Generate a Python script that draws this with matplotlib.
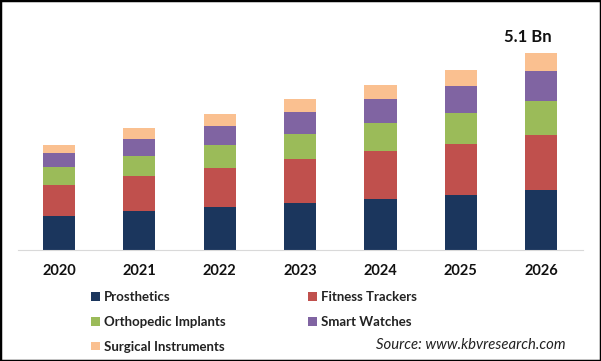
import matplotlib.pyplot as plt
from matplotlib.patches import Rectangle

years = ['2020', '2021', '2022', '2023', '2024', '2025', '2026']
prosthetics = [0.88, 1.02, 1.11, 1.22, 1.32, 1.43, 1.55]
fitness = [0.80, 0.90, 1.02, 1.13, 1.24, 1.32, 1.43]
orthopedic = [0.47, 0.52, 0.59, 0.65, 0.72, 0.80, 0.87]
smart = [0.35, 0.44, 0.49, 0.57, 0.62, 0.69, 0.78]
surgical = [0.23, 0.28, 0.31, 0.34, 0.36, 0.41, 0.46]
series_names = ['Prosthetics', 'Fitness Trackers', 'Orthopedic Implants',
                'Smart Watches', 'Surgical Instruments']
colors = ['#1b365d', '#c0504d', '#9bbb59', '#8064a2', '#fac090']

plt.rcParams['font.family'] = ['Lato', 'DejaVu Sans']

fig = plt.figure(figsize=(6.01, 3.61), dpi=100)
ax = fig.add_axes([18/601, 111/361, 565/601, 230/361])

x = list(range(len(years)))
bottom = [0] * len(years)
handles = []
for name, vals, c in zip(series_names,
                         [prosthetics, fitness, orthopedic, smart, surgical],
                         colors):
    b = ax.bar(x, vals, 0.4, bottom=bottom, color=c, label=name)
    handles.append(b)
    bottom = [p + v for p, v in zip(bottom, vals)]

ax.text(x[-1] - 0.17, bottom[-1] + 0.42, '5.1 Bn', ha='center', va='center',
        fontsize=12, fontweight='bold', color='#111111')

ax.set_xlim(-0.51, 6.52)
ax.set_ylim(0, 230 * 5.1 / 197)
for s in ['top', 'right', 'left']:
    ax.spines[s].set_visible(False)
ax.spines['bottom'].set_color('#d9d9d9')
ax.set_yticks([])
ax.set_xticks(x)
ax.set_xticklabels(years, fontsize=10.5, fontweight='bold', color='#111111')
ax.tick_params(axis='x', length=0, pad=10)

# legend in two separate columns so the column positions can be set exactly
leg_kw = dict(loc='upper left', frameon=False, handlelength=0.65,
              handleheight=0.65, handletextpad=0.3, labelspacing=0.97,
              borderpad=0, borderaxespad=0,
              prop={'size': 9.5, 'weight': 'bold'})
col1 = [0, 2, 4]
col2 = [1, 3]
leg1 = fig.legend([handles[i] for i in col1], [series_names[i] for i in col1],
                  bbox_to_anchor=(91/601, 1 - 291/361), **leg_kw)
leg2 = fig.legend([handles[i] for i in col2], [series_names[i] for i in col2],
                  bbox_to_anchor=(308/601, 1 - 291/361), **leg_kw)
for leg in (leg1, leg2):
    for t in leg.get_texts():
        t.set_color('#222222')

fig.text(566/601, 1 - 345/361, 'Source: www.kbvresearch.com', ha='right',
         va='center', fontsize=10.7, style='italic', color='#222222')

fig.patches.append(Rectangle((0, 0), 1, 1, transform=fig.transFigure,
                             fill=False, edgecolor='black', linewidth=2.5))

fig.savefig('out.png', dpi=100)
